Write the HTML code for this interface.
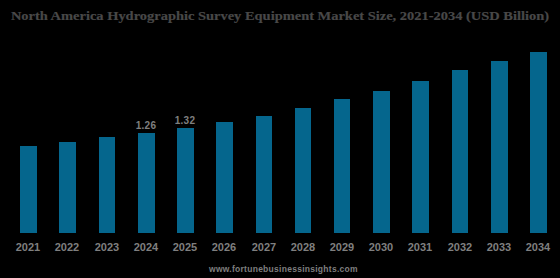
<!DOCTYPE html>
<html><head><meta charset="utf-8">
<style>
html,body{margin:0;padding:0;background:#000;}
body{width:560px;height:278px;position:relative;overflow:hidden;}
.t{position:absolute;left:0;top:0;width:560px;text-align:center;font-family:"Liberation Serif",serif;font-weight:bold;font-size:13.5px;color:#484848;white-space:nowrap;-webkit-text-stroke:0.2px #484848;transform:scaleX(1.07);transform-origin:280px 0;}
.b{position:absolute;background:#05668d;width:17px;}
.x{position:absolute;font-family:"Liberation Sans",sans-serif;font-weight:bold;font-size:11px;color:#7f7f7f;width:40px;text-align:center;top:241px;}
.v{position:absolute;font-family:"Liberation Sans",sans-serif;font-weight:bold;font-size:10px;letter-spacing:0.3px;color:#7f7f7f;width:40px;text-align:center;}
.f{position:absolute;left:209px;font-family:"Liberation Sans",sans-serif;font-weight:bold;font-size:8.5px;letter-spacing:0.27px;color:#7f7f7f;top:264px;white-space:nowrap;}
</style></head><body>
<div class="t" style="top:8px">North America Hydrographic Survey Equipment Market Size, 2021-2034 (USD Billion)</div>
<div id="bars"></div>
<div class="b" style="left:20px;top:146px;height:87px"></div>
<div class="b" style="left:59px;top:142px;height:91px"></div>
<div class="b" style="left:99px;top:137px;height:96px;width:16px"></div>
<div class="b" style="left:138px;top:133px;height:100px"></div>
<div class="b" style="left:177px;top:128px;height:105px"></div>
<div class="b" style="left:216px;top:122px;height:111px"></div>
<div class="b" style="left:256px;top:116px;height:117px;width:16px"></div>
<div class="b" style="left:295px;top:108px;height:125px;width:16px"></div>
<div class="b" style="left:334px;top:99px;height:134px;width:16px"></div>
<div class="b" style="left:373px;top:91px;height:142px"></div>
<div class="b" style="left:412px;top:81px;height:152px"></div>
<div class="b" style="left:452px;top:70px;height:163px;width:16px"></div>
<div class="b" style="left:491px;top:61px;height:172px"></div>
<div class="b" style="left:530px;top:52px;height:181px"></div>
<div class="v" style="left:126px;top:120px">1.26</div>
<div class="v" style="left:165px;top:115px">1.32</div>
<div class="x" style="left:8px">2021</div>
<div class="x" style="left:47px">2022</div>
<div class="x" style="left:87px">2023</div>
<div class="x" style="left:126px">2024</div>
<div class="x" style="left:165px">2025</div>
<div class="x" style="left:204px">2026</div>
<div class="x" style="left:244px">2027</div>
<div class="x" style="left:283px">2028</div>
<div class="x" style="left:322px">2029</div>
<div class="x" style="left:361px">2030</div>
<div class="x" style="left:400px">2031</div>
<div class="x" style="left:440px">2032</div>
<div class="x" style="left:479px">2033</div>
<div class="x" style="left:518px">2034</div>
<div class="f">www.fortunebusinessinsights.com</div>
</body></html>
